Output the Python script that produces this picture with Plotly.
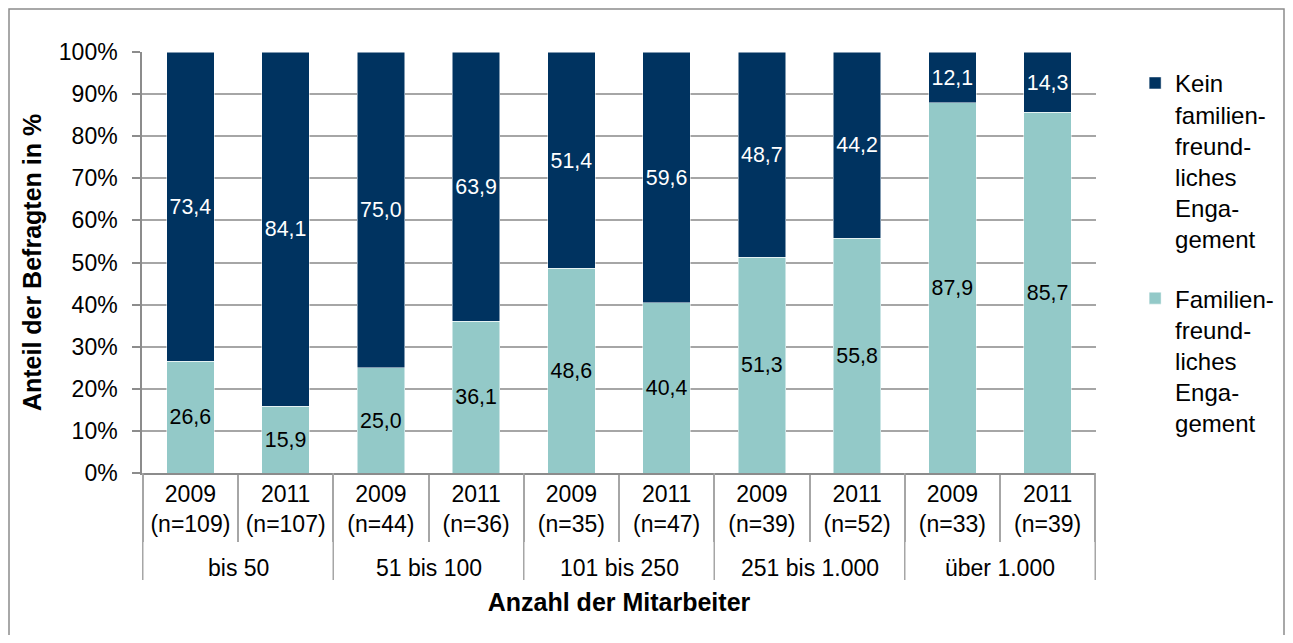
import plotly.graph_objects as go

groups = ["bis 50", "bis 50", "51 bis 100", "51 bis 100", "101 bis 250", "101 bis 250",
          "251 bis 1.000", "251 bis 1.000", "über 1.000", "über 1.000"]
years = ["2009<br>(n=109)", "2011<br>(n=107)", "2009<br>(n=44)", "2011<br>(n=36)",
         "2009<br>(n=35)", "2011<br>(n=47)", "2009<br>(n=39)", "2011<br>(n=52)",
         "2009<br>(n=33)", "2011<br>(n=39)"]
familien = [26.6, 15.9, 25.0, 36.1, 48.6, 40.4, 51.3, 55.8, 87.9, 85.7]
kein = [73.4, 84.1, 75.0, 63.9, 51.4, 59.6, 48.7, 44.2, 12.1, 14.3]
y_ticks = list(range(0, 101, 10))
y_ticktext = [f"{v}%" for v in y_ticks]

FONT = "Liberation Sans, Arial, sans-serif"
DARK = "#003360"
LIGHT = "#93C9C8"
AXIS = "#8C8C8C"
GRID = "#A6A6A6"

# figure geometry (page has an 8px body margin)
W, H = 1277, 627
L, T, PW, PH = 134, 44, 954, 421
R, B = W - L - PW, H - T - PH

fig = go.Figure()
fig.add_trace(go.Bar(
    x=years, y=familien, name="Familien-<br>freund-<br>liches<br>Enga-<br>gement",
    legendrank=2, legendgroup="f",
    marker=dict(color=LIGHT, line=dict(color="white", width=0.5)),
    texttemplate="%{y:.1f}", textposition="inside", insidetextanchor="middle",
    textfont=dict(color="black", size=23, family=FONT), textangle=0,
))
fig.add_trace(go.Bar(
    x=years, y=kein, name="Kein<br>familien-<br>freund-<br>liches<br>Enga-<br>gement",
    legendrank=1, legendgroup="k",
    marker=dict(color=DARK, line=dict(color="white", width=0.5)),
    texttemplate="%{y:.1f}", textposition="inside", insidetextanchor="middle",
    textfont=dict(color="white", size=23, family=FONT), textangle=0,
))

# outer category level: group labels centred under their bars, dividers at group boundaries
n = len(groups)
group_names = list(dict.fromkeys(groups))
annotations = []
for g in group_names:
    idx = [i for i, v in enumerate(groups) if v == g]
    annotations.append(dict(
        x=(idx[0] + idx[-1]) / 2, xref="x", y=-95 / PH, yref="paper",
        text=g, showarrow=False, yanchor="middle", xanchor="center",
        font=dict(size=23, family=FONT, color="black"),
    ))
bounds = [-0.5] + [i - 0.5 for i in range(1, n) if groups[i] != groups[i - 1]] + [n - 0.5]
shapes = [dict(type="line", xref="x", yref="paper", x0=b, x1=b, y0=0, y1=-107 / PH,
               line=dict(color=GRID, width=1.5)) for b in bounds]
# outer chart frame
shapes.append(dict(type="rect", xref="paper", yref="paper",
                   x0=-(L - 1) / PW, x1=(W - L - 1) / PW, y0=-(B + 20) / PH, y1=(PH + T - 1) / PH,
                   line=dict(color="#8C8C8C", width=1.5), fillcolor="rgba(0,0,0,0)", layer="below"))

fig.update_layout(
    barmode="stack", bargap=0.5,
    width=W, height=H,
    separators=",.",
    paper_bgcolor="white", plot_bgcolor="white",
    font=dict(family=FONT, size=23, color="black"),
    margin=dict(l=L, r=R, t=T, b=B, autoexpand=False),
    legend=dict(
        x=1.041, y=0.979, xanchor="left", yanchor="top",
        traceorder="grouped", valign="top", tracegroupgap=25,
        font=dict(size=24, family=FONT),
    ),
    xaxis=dict(
        type="category", showline=True, linecolor=AXIS, linewidth=1.5,
        ticks="outside", tickson="boundaries", ticklen=67, tickcolor=GRID, tickwidth=1.5,
        showgrid=False,
        tickfont=dict(size=23, family=FONT),
        title=dict(text="<b>Anzahl der Mitarbeiter</b>", font=dict(size=25, family=FONT), standoff=57),
    ),
    yaxis=dict(
        range=[0, 100], tickvals=y_ticks, ticktext=y_ticktext,
        showgrid=True, gridcolor=GRID, gridwidth=1.5,
        showline=True, linecolor=AXIS, linewidth=1.5,
        ticks="outside", ticklen=8, tickcolor=AXIS, tickwidth=1.5,
        ticklabelstandoff=10,
        tickfont=dict(size=23, family=FONT),
        title=dict(text="<b>Anteil der Befragten in %</b>", font=dict(size=25, family=FONT), standoff=10),
        zeroline=False,
    ),
    annotations=annotations,
    shapes=shapes,
)

fig.write_html("out.html")
